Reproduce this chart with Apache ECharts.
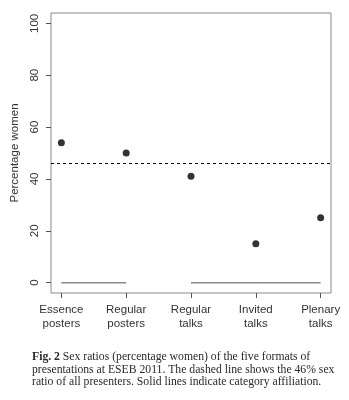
<!DOCTYPE html>
<html>
<head>
<meta charset="utf-8">
<script src="https://cdn.jsdelivr.net/npm/echarts@6/dist/echarts.min.js"></script>
<style>html,body{margin:0;padding:0;background:#fff;}#c{width:349px;height:400px;}</style>
</head>
<body>
<div id="c"></div>
<script>
var categories = ['Essence\nposters', 'Regular\nposters', 'Regular\ntalks', 'Invited\ntalks', 'Plenary\ntalks'];
var percentWomen = [54, 50, 41, 15, 25];
var overallPercent = 46;
var affiliationGroups = [[1, 2], [3, 5]];
var yTicks = [0, 20, 40, 60, 80, 100];
var xTicks = [1, 2, 3, 4, 5];
var captionLines = [
  'Sex ratios (percentage women) of the five formats of',
  'presentations at ESEB 2011. The dashed line shows the 46% sex',
  'ratio of all presenters. Solid lines indicate category affiliation.'
];

var chart = echarts.init(document.getElementById('c'));
var pts = percentWomen.map(function (v, i) { return [xTicks[i], v]; });
var groupSeries = affiliationGroups.map(function (g) {
  return {
    type: 'line', data: [[g[0], 0], [g[1], 0]], symbol: 'none', silent: true,
    lineStyle: { color: '#8a8a8a', width: 1.5 }, z: 2
  };
});

chart.setOption({
  animation: false,
  grid: { left: 51, top: 13, right: 18, bottom: 107, show: true, borderColor: '#8a8a8a', borderWidth: 1, backgroundColor: 'transparent' },
  xAxis: {
    type: 'value', min: 0.84, max: 5.16,
    axisLine: { show: false, onZero: false },
    splitLine: { show: false },
    axisTick: { show: true, inside: false, length: 5, customValues: xTicks, lineStyle: { color: '#555' } },
    axisLabel: {
      customValues: xTicks, margin: 10, color: '#333', fontFamily: 'Liberation Sans, Arial, sans-serif', fontSize: 11.5, lineHeight: 14,
      formatter: function (v) { return categories[Math.round(v) - 1] || ''; }
    }
  },
  yAxis: {
    type: 'value', min: -4, max: 104,
    name: 'Percentage women', nameLocation: 'middle', nameGap: 28.5, nameRotate: 90,
    nameTextStyle: { color: '#333', fontFamily: 'Liberation Sans, Arial, sans-serif', fontSize: 11.5 },
    axisLine: { show: false, onZero: false },
    splitLine: { show: false },
    axisTick: { show: true, length: 5, customValues: yTicks, lineStyle: { color: '#555' } },
    axisLabel: { customValues: yTicks, rotate: 90, margin: 10.5, color: '#333', fontFamily: 'Liberation Sans, Arial, sans-serif', fontSize: 11.5 }
  },
  graphic: [{
    type: 'text', left: 32, top: 351,
    style: {
      text: '{b|Fig. 2} ' + captionLines[0] + '\n' + captionLines[1] + '\n' + captionLines[2],
      font: '11.7px "Liberation Serif", serif', fill: '#2a2a2a', lineHeight: 12.5,
      rich: { b: { fontWeight: 'bold', fontFamily: 'Liberation Serif', fontSize: 11.7, fill: '#2a2a2a', lineHeight: 12.5 } }
    }
  }],
  series: groupSeries.concat([{
    type: 'scatter', data: pts, symbol: 'circle', symbolSize: 7,
    itemStyle: { color: '#000' }, z: 5,
    markLine: {
      silent: true, symbol: 'none', label: { show: false },
      lineStyle: { color: '#000', type: [3, 3], width: 1 },
      data: [{ yAxis: overallPercent }]
    }
  }])
});
</script>
</body>
</html>
